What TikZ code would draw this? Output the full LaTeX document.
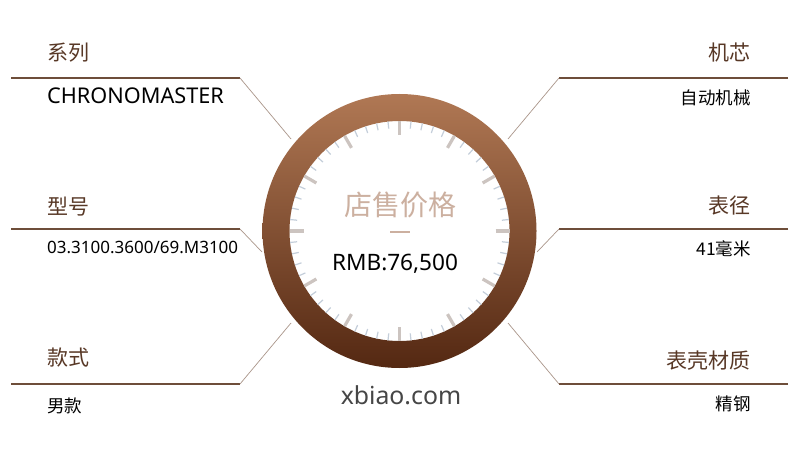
\documentclass[tikz,border=0pt]{standalone}
\usepackage{fontspec}
\usetikzlibrary{calc}
\setmainfont{Noto Sans CJK SC}
\newfontfamily\latinfont{Noto Sans}
\definecolor{titlebrown}{RGB}{88,56,38}
\definecolor{linebrown}{RGB}{110,78,58}
\definecolor{diagline}{RGB}{170,150,138}
\definecolor{ringtop}{RGB}{176,120,84}
\definecolor{ringmid}{RGB}{150,92,56}
\definecolor{ringbot}{RGB}{84,40,18}
\definecolor{pricecol}{RGB}{204,176,160}
\definecolor{majortick}{RGB}{204,196,192}
\definecolor{minortick}{RGB}{196,206,218}
\definecolor{sitecol}{RGB}{70,70,70}
\begin{document}
\begin{tikzpicture}[x=1pt,y=-1pt,
  title/.style={font=\fontsize{21}{21}\selectfont, text=titlebrown, inner sep=0pt},
  value/.style={font=\fontsize{17.5}{17.5}\selectfont, text=black, inner sep=0pt},
  hline/.style={draw=linebrown, line width=1.4pt},
  dline/.style={draw=diagline, line width=0.7pt},
  majorT/.style={draw=majortick, line width=3.2pt},
  minorT/.style={draw=minortick, line width=1.2pt}]
\useasboundingbox (0,0) rectangle (800,457);
\fill[white] (0,0) rectangle (800,457);
% ring
\coordinate (c) at (399.5,231);
\shade[top color=ringtop, middle color=ringmid, bottom color=ringbot, even odd rule] (c) circle (137) (c) circle (110);
% ticks
\foreach \i in {0,...,59}{
  \pgfmathtruncatemacro{\m}{mod(\i,5)}
  \ifnum\m=0
    \draw[majorT] ($(c)+(\i*6:96)$) -- ($(c)+(\i*6:110)$);
  \else
    \draw[minorT] ($(c)+(\i*6:103)$) -- ($(c)+(\i*6:110)$);
  \fi
}
% connectors
\coordinate (l1a) at (11,78);  \coordinate (l1b) at (240,78);  \coordinate (l1c) at (291,139);
\coordinate (l2a) at (11,229); \coordinate (l2b) at (240,229); \coordinate (l2c) at (262,252);
\coordinate (l3a) at (11,384); \coordinate (l3b) at (240,384); \coordinate (l3c) at (291,323);
\coordinate (r1a) at (788,78);  \coordinate (r1b) at (559,78);  \coordinate (r1c) at (508,139);
\coordinate (r2a) at (788,229); \coordinate (r2b) at (559,229); \coordinate (r2c) at (537,252);
\coordinate (r3a) at (788,384); \coordinate (r3b) at (559,384); \coordinate (r3c) at (508,323);
\foreach \s in {l1,l2,l3,r1,r2,r3}{
  \draw[hline] (\s a) -- (\s b);
  \draw[dline] (\s b) -- (\s c);
}
% left labels
\node[title, anchor=west] (t1) at (47,53) {系列};
\node[value, anchor=west] (v1) at (47,96) {\latinfont\fontsize{21.7}{21.7}\selectfont CHRONOMASTER};
\node[value, anchor=west] (v2) at (47,247) {\latinfont\fontsize{17}{17}\selectfont 03.3100.3600/69.M3100};
\node[title, anchor=west] (t2) at (47,207) {型号};
\node[title, anchor=west] (t3) at (47,358) {款式};
\node[value, anchor=west] (v3) at (47,406) {男款};
% right labels
\node[title, anchor=east] (t4) at (751,53) {机芯};
\node[value, anchor=east] (v4) at (751,98) {自动机械};
\node[title, anchor=east] (t5) at (751,206) {表径};
\node[value, anchor=east] (v5) at (751,249) {41毫米};
\node[title, anchor=east] (t6) at (751,361) {表壳材质};
\node[value, anchor=east] (v6) at (751,404) {精钢};
% center
\node[font=\fontsize{28}{28}\selectfont, text=pricecol, inner sep=0pt] (price) at (400,205) {店售价格};
\coordinate (dashL) at (390,232); \coordinate (dashR) at (410,232);
\draw[draw=pricecol, line width=1.2pt] (dashL) -- (dashR);
\node[font=\latinfont\fontsize{22.6}{22.6}\selectfont, inner sep=0pt] (rmb) at (395,264) {RMB:76,500};
\node[font=\latinfont\fontsize{24.8}{24.8}\selectfont, text=sitecol, inner sep=0pt] (site) at (401,395) {xbiao.com};
\end{tikzpicture}
\end{document}
